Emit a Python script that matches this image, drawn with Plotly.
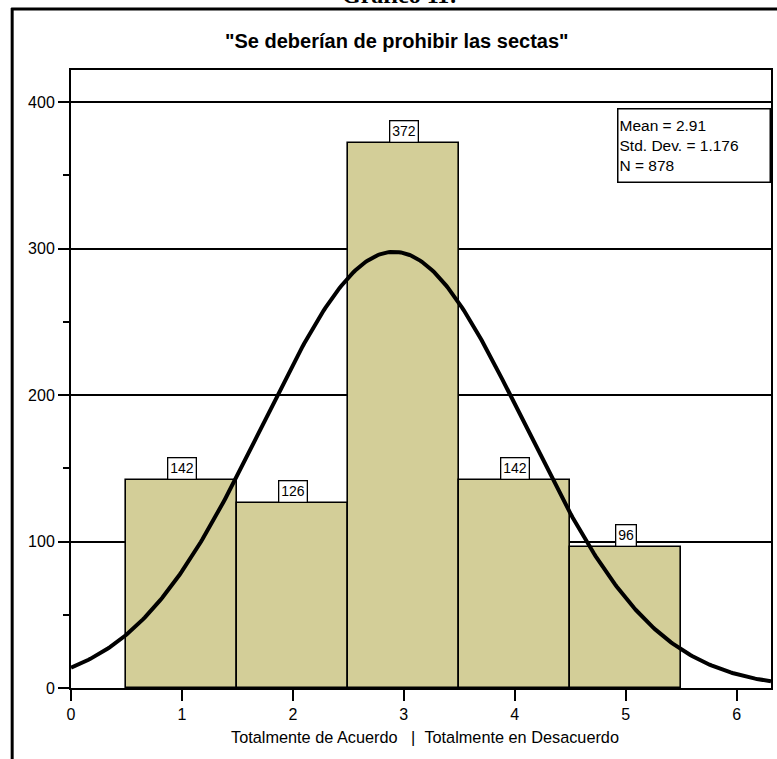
import numpy as np
import plotly.graph_objects as go

categories = [1, 2, 3, 4, 5]
counts = [142, 126, 372, 142, 96]
stat_mean = 2.91
stat_sd = 1.176
stat_n = 878
x_ticks = [0, 1, 2, 3, 4, 5, 6]
y_ticks = [0, 100, 200, 300, 400]

bar_color = "#D3CE98"
FONT = "Arial, Liberation Sans, sans-serif"

# plot area in pixels: left 71, right 773, top 70, bottom 688
PL, PR, PT, PB = 71, 773, 70, 688
PW, PH = PR - PL, PB - PT


def px(x):
    return (x - PL) / PW


def py(y):
    return (PB - y) / PH


fig = go.Figure()
fig.add_trace(go.Bar(
    x=categories, y=counts, width=1.0,
    marker=dict(color=bar_color, line=dict(color="black", width=1.6)),
    showlegend=False, hoverinfo="skip"))

xs = np.linspace(0, 6.31, 400)
ys = stat_n * 1.0 / (stat_sd * np.sqrt(2 * np.pi)) * np.exp(-0.5 * ((xs - stat_mean) / stat_sd) ** 2)
fig.add_trace(go.Scatter(x=xs, y=ys, mode="lines", line=dict(color="black", width=4),
                         showlegend=False, hoverinfo="skip"))

annotations = []
for c, v in zip(categories, counts):
    annotations.append(dict(x=c, y=v, xref="x", yref="y", text=str(v), showarrow=False,
                            yanchor="bottom", xanchor="center", yshift=0,
                            font=dict(family=FONT, size=14, color="black"),
                            bgcolor="white", bordercolor="black", borderwidth=1.3, borderpad=2))

annotations.append(dict(
    x=px(619), y=py(108), xref="paper", yref="paper",
    xanchor="left", yanchor="top", align="left", showarrow=False,
    text="Mean = 2.91<br>Std. Dev. = 1.176<br>N = 878",
    font=dict(family=FONT, size=15.5, color="black"),
    bgcolor="white", bordercolor="black", borderwidth=1.5, borderpad=1, width=149, height=70))

annotations.append(dict(
    x=px(398), y=py(41), xref="paper", yref="paper",
    xanchor="center", yanchor="middle", showarrow=False,
    text="<b>\"Se deberían de prohibir las sectas\"</b>",
    font=dict(family=FONT, size=20, color="black")))

annotations.append(dict(
    x=px(400), y=py(-5), xref="paper", yref="paper",
    xanchor="center", yanchor="middle", showarrow=False,
    text="<b>Gráfico 11:</b>",
    font=dict(family="Liberation Serif, Times New Roman, serif", size=24, color="black")))

annotations.append(dict(
    x=px(426), y=py(737), xref="paper", yref="paper",
    xanchor="center", yanchor="middle", showarrow=False,
    text="Totalmente de Acuerdo\u00a0\u00a0\u00a0|\u00a0\u00a0Totalmente en Desacuerdo",
    font=dict(family=FONT, size=16.3, color="black")))

shapes = [
    dict(type="line", xref="paper", yref="paper", x0=px(11), x1=px(780),
         y0=py(9), y1=py(9), line=dict(color="black", width=3)),
    dict(type="line", xref="paper", yref="paper", x0=px(12), x1=px(12),
         y0=py(8), y1=py(770), line=dict(color="black", width=3)),
]

fig.update_layout(
    width=777, height=759,
    margin=dict(l=PL, r=777 - PR, t=PT, b=759 - PB),
    paper_bgcolor="white", plot_bgcolor="white",
    bargap=0,
    annotations=annotations, shapes=shapes,
    xaxis=dict(range=[0, 6.31], tickvals=x_ticks, ticks="outside", ticklen=11, tickwidth=2,
               tickcolor="black", showline=True, linecolor="black", linewidth=2, mirror=True,
               showgrid=False, zeroline=False,
               tickfont=dict(family=FONT, size=16, color="black")),
    yaxis=dict(range=[0, 422], tickvals=y_ticks, ticks="outside", ticklen=11, tickwidth=2,
               tickcolor="black", showline=True, linecolor="black", linewidth=2, mirror=True,
               showgrid=True, gridcolor="black", gridwidth=1.5, zeroline=False,
               minor=dict(dtick=50, ticks="outside", ticklen=6, tickwidth=1.5, tickcolor="black",
                          showgrid=False),
               tickfont=dict(family=FONT, size=16, color="black")),
)

fig.write_html("out.html", config={"displayModeBar": False},
               post_script="document.body.style.margin='0';")
